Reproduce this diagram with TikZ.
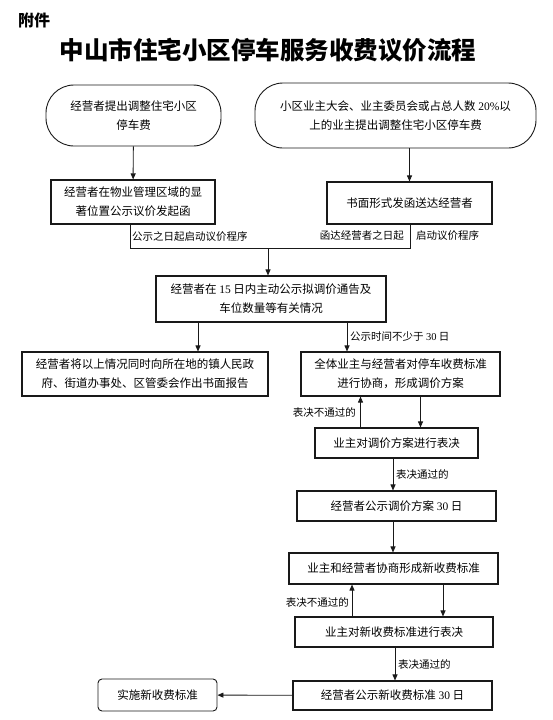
\documentclass[tikz,border=0pt]{standalone}
\usepackage{fontspec}
\newfontfamily\cjk{Noto Sans CJK SC}
\newfontfamily\lat{Liberation Serif}
\usetikzlibrary{arrows.meta}

\begin{document}
\begin{tikzpicture}[x=1pt, y=-1pt,
  txt/.style={font=\cjk\fontsize{11.5}{19}\selectfont, align=center, inner sep=0pt},
  stadium/.style={txt, draw=black!90, line width=0.9pt, rounded corners=28pt},
  procbox/.style={txt, draw=black!90, line width=1.1pt},
  endbox/.style={procbox, line width=0.9pt, rounded corners=4pt},
  lbl/.style={font=\cjk\fontsize{10.5}{12}\selectfont, inner sep=1pt},
  link/.style={draw=black!90, line width=0.9pt},
  arr/.style={link, -{Triangle[length=6pt, width=5pt]}}
]
\useasboundingbox (0,0) rectangle (553,720);

% heading
\node[font=\cjk\bfseries\fontsize{16}{18}\selectfont, anchor=west, inner sep=0pt] (annex) at (18,20) {附件};
\node[font=\cjk\bfseries\fontsize{24.5}{26}\selectfont, inner sep=0pt] (title) at (268,50) {中山市住宅小区停车服务收费议价流程};

% two starting points
\node[stadium, minimum width=175pt, minimum height=61pt] (lstart) at (133.5,115.5) {经营者提出调整住宅小区\\停车费};
\node[stadium, minimum width=281pt, minimum height=65pt] (rstart) at (395.5,115.5) {小区业主大会、业主委员会或占总人数 {\lat 20\%}以\\上的业主提出调整住宅小区停车费};
\node[procbox, minimum width=164pt, minimum height=44pt] (lbox) at (133,202) {经营者在物业管理区域的显\\著位置公示议价发起函};
\node[procbox, minimum width=165pt, minimum height=42pt] (rbox) at (409.5,203) {书面形式发函送达经营者};

% main steps
\node[procbox, minimum width=230pt, minimum height=46pt] (notice) at (271,299) {经营者在 {\lat 15} 日内主动公示拟调价通告及\\车位数量等有关情况};
\node[procbox, minimum width=246pt, minimum height=44pt] (report) at (145,374) {经营者将以上情况同时向所在地的镇人民政\\府、街道办事处、区管委会作出书面报告};
\node[procbox, minimum width=199pt, minimum height=44pt] (consult) at (400.5,374) {全体业主与经营者对停车收费标准\\进行协商，形成调价方案};
\node[procbox, minimum width=163pt, minimum height=30pt] (vote1) at (396.5,443) {业主对调价方案进行表决};
\node[procbox, minimum width=199pt, minimum height=30pt] (pub1) at (396.5,506) {经营者公示调价方案 {\lat 30} 日};
\node[procbox, minimum width=209pt, minimum height=31pt] (consult2) at (393.5,568.5) {业主和经营者协商形成新收费标准};
\node[procbox, minimum width=198pt, minimum height=30pt] (vote2) at (394,632) {业主对新收费标准进行表决};
\node[procbox, minimum width=199pt, minimum height=29pt] (pub2) at (392.5,695.5) {经营者公示新收费标准 {\lat 30} 日};
\node[endbox, minimum width=119pt, minimum height=32pt] (apply) at (157.5,695) {实施新收费标准};

% guide points for the vertical connectors
\coordinate (jl) at (130,248);
\coordinate (jm) at (268,248);
\coordinate (jr) at (410,248);
\coordinate (g1) at (198,0);
\coordinate (g2) at (347,0);
\coordinate (g3) at (420.5,0);
\coordinate (g4) at (360.5,0);
\coordinate (g5) at (393,0);
\coordinate (g6) at (443,0);
\coordinate (g7) at (352,0);
\coordinate (g8) at (395,0);

% connectors
\draw[arr] (lstart) -- (lbox);
\draw[arr] (rstart.south -| rbox.north) -- (rbox.north);
\draw[link] (lbox.south -| jl) -- (jl) -- (jr) -- (rbox.south -| jr);
\draw[arr] (jm) -- (jm |- notice.north);
\draw[arr] (notice.south -| g1) -- (report.north -| g1);
\draw[arr] (notice.south -| g2) -- (consult.north -| g2);
\draw[arr] (consult.south -| g3) -- (vote1.north -| g3);
\draw[arr] (vote1.north -| g4) -- (consult.south -| g4);
\draw[arr] (vote1.south -| g5) -- (pub1.north -| g5);
\draw[arr] (pub1.south -| g5) -- (consult2.north -| g5);
\draw[arr] (consult2.south -| g6) -- (vote2.north -| g6);
\draw[arr] (vote2.north -| g7) -- (consult2.south -| g7);
\draw[arr] (vote2.south -| g8) -- (pub2.north -| g8);
\draw[arr] (pub2) -- (apply);

% connector labels
\node[lbl, anchor=west] (lbl1) at (131,237) {公示之日起启动议价程序};
\node[lbl, anchor=east] (lbl2) at (405,236) {函达经营者之日起};
\node[lbl, anchor=west] (lbl3) at (415,236) {启动议价程序};
\node[lbl, anchor=west] (lbl4) at (349,337) {公示时间不少于 {\lat 30} 日};
\node[lbl, anchor=east] (lbl5) at (357,412) {表决不通过的};
\node[lbl, anchor=west] (lbl6) at (395,474) {表决通过的};
\node[lbl, anchor=east] (lbl7) at (350,602) {表决不通过的};
\node[lbl, anchor=west] (lbl8) at (397,664) {表决通过的};

\end{tikzpicture}
\end{document}
